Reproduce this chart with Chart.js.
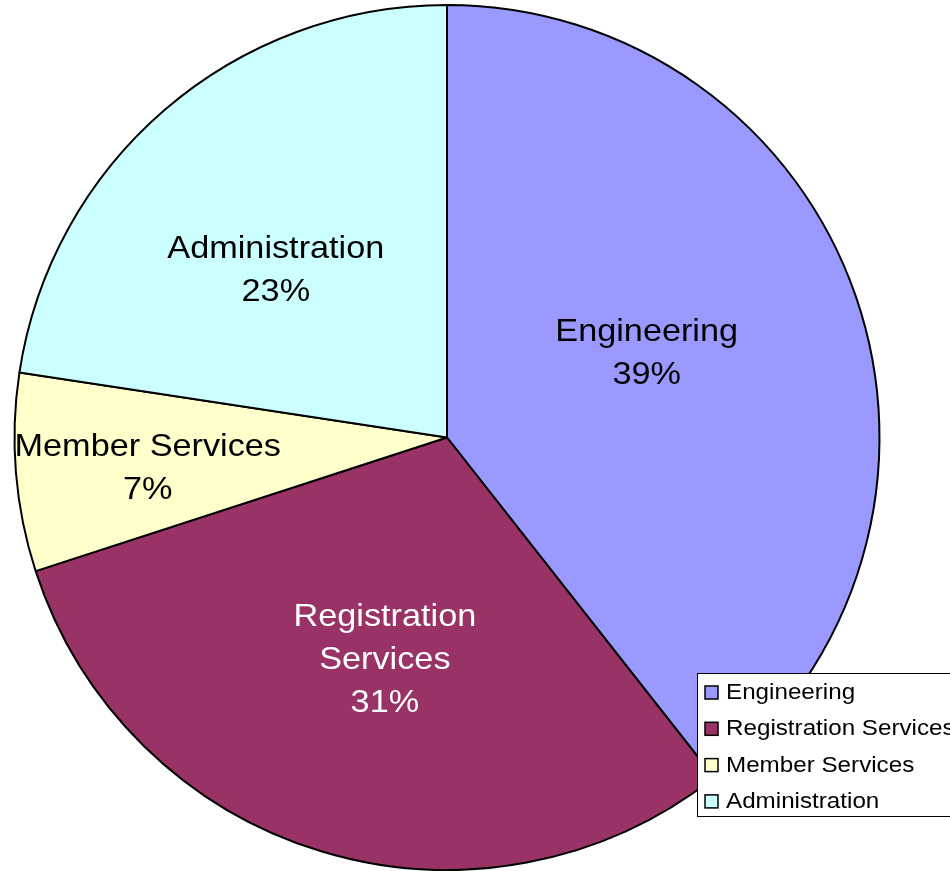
<!DOCTYPE html>
<html>
<head>
<meta charset="utf-8">
<script src="https://cdn.jsdelivr.net/npm/chart.js@4.4.0/dist/chart.umd.min.js"></script>
<style>
  html, body { margin: 0; padding: 0; background: #fff; overflow: hidden; }
  #wrap { position: relative; width: 950px; height: 871px; }
</style>
</head>
<body>
<div id="wrap"><canvas id="pieChart" width="950" height="871"></canvas></div>
<script>
// data (shares of the whole, %)
const categories = ['Engineering', 'Registration Services', 'Member Services', 'Administration'];
const values = [39.4, 30.6, 7.4, 22.6];
const sliceColors = ['#9999FF', '#993366', '#FFFFCC', '#CCFFFF'];
// how the in-slice labels are broken into lines
const labelLines = [['Engineering'], ['Registration', 'Services'], ['Member Services'], ['Administration']];

// label placement: fraction of radius + small angle nudge (deg), Excel "best fit"-ish
const labelRadius = [0.503, 0.527, 0.695, 0.558];
const labelNudge = [-4.3, -1.1, -0.7, -4.5];
const labelColors = ['#000', '#fff', '#000', '#000'];
const FONT = '"Liberation Sans", Arial, sans-serif';

const sliceLabels = {
  id: 'sliceLabels',
  afterDatasetsDraw(chart) {
    const ctx = chart.ctx;
    const meta = chart.getDatasetMeta(0);
    const total = values.reduce((a, b) => a + b, 0);
    ctx.save();
    ctx.font = '32px ' + FONT;
    ctx.textAlign = 'center';
    ctx.textBaseline = 'middle';
    meta.data.forEach((arc, i) => {
      const mid = (arc.startAngle + arc.endAngle) / 2 + labelNudge[i] * Math.PI / 180;
      const r = arc.outerRadius * labelRadius[i];
      const cx = arc.x + Math.cos(mid) * r;
      const cy = arc.y + Math.sin(mid) * r + 3;
      const lines = labelLines[i].concat([Math.round(100 * values[i] / total) + '%']);
      const lh = 43;
      const top = cy - (lines.length - 1) * lh / 2;
      ctx.fillStyle = labelColors[i];
      lines.forEach((t, k) => {
        ctx.save();
        ctx.translate(cx, top + k * lh);
        ctx.scale(1.07, 1);   // original text is a bit wide
        ctx.fillText(t, 0, 0);
        ctx.restore();
      });
    });
    ctx.restore();
  }
};

// legend box sitting over the bottom right of the pie, as in the original
const boxLegend = {
  id: 'boxLegend',
  afterDraw(chart) {
    const ctx = chart.ctx;
    const x = 697, y = 673, w = 280, h = 143;
    ctx.save();
    ctx.fillStyle = '#fff';
    ctx.fillRect(x, y, w, h);
    ctx.strokeStyle = '#000';
    ctx.lineWidth = 1;
    ctx.strokeRect(x + 0.5, y + 0.5, w, h);
    ctx.font = '22px ' + FONT;
    ctx.textBaseline = 'middle';
    ctx.textAlign = 'left';
    categories.forEach((c, i) => {
      const ry = y + 19 + i * 36.3;
      ctx.fillStyle = sliceColors[i];
      ctx.fillRect(705, ry - 6, 13, 13);
      ctx.lineWidth = 1.5;
      ctx.strokeRect(705, ry - 6, 13, 13);
      ctx.fillStyle = '#000';
      ctx.save();
      ctx.translate(726, ry + 1);
      ctx.scale(1.1, 1);
      ctx.fillText(c, 0, 0);
      ctx.restore();
    });
    ctx.restore();
  }
};

new Chart(document.getElementById('pieChart'), {
  type: 'pie',
  data: {
    labels: categories,
    datasets: [{
      data: values,
      backgroundColor: sliceColors,
      borderColor: '#000',
      borderWidth: 2
    }]
  },
  options: {
    responsive: false,
    animation: false,
    layout: { padding: { left: 13, right: 69, top: 4, bottom: 0 } },
    plugins: {
      legend: { display: false },
      tooltip: { enabled: false }
    }
  },
  plugins: [sliceLabels, boxLegend]
});
</script>
</body>
</html>
